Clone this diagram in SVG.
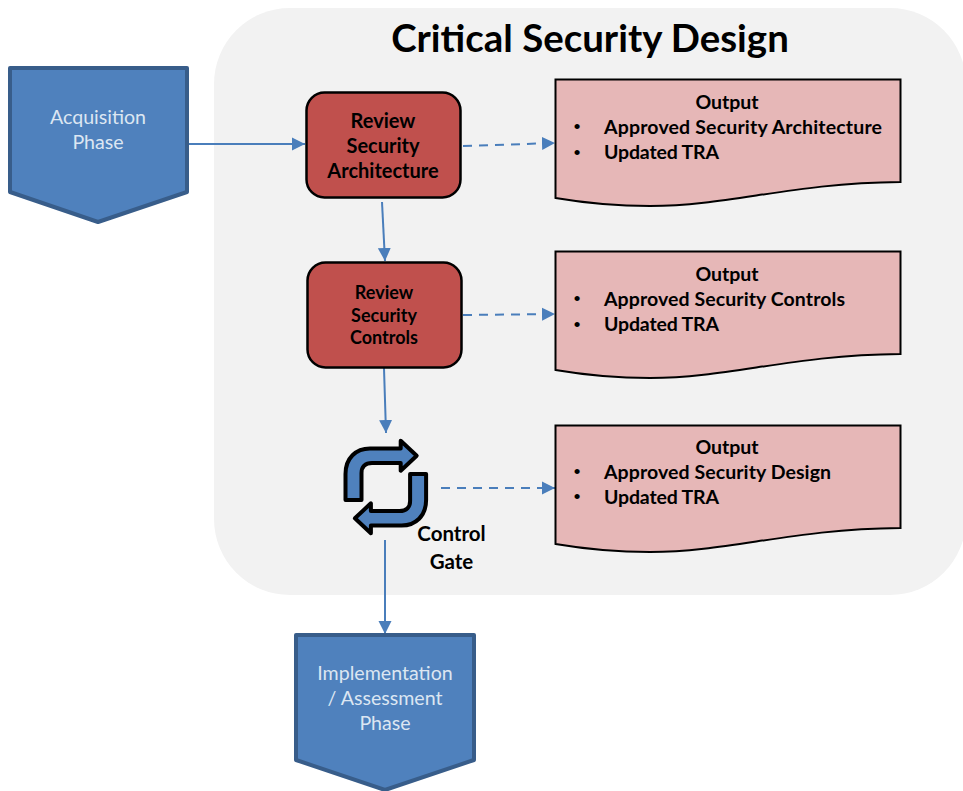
<svg xmlns="http://www.w3.org/2000/svg" width="963" height="791" viewBox="0 0 963 791">
<style>
text{font-family:Lato,"Liberation Sans",sans-serif;text-anchor:middle}
.phase{fill:#4f81bd;stroke:#385d8a;stroke-width:4;stroke-linejoin:round}
.phaset{fill:#dce6f2;font-size:19.6px}
.review{fill:#c0504d;stroke:#000;stroke-width:2.5}
.revt{fill:#000;font-weight:700;font-size:20px}
.revs{fill:#000;font-weight:700;font-size:18px}
.doc{fill:#e6b7b7;stroke:#000;stroke-width:2}
.dt{fill:#000;font-weight:700;font-size:19.5px}
.li{text-anchor:start}
.bul{fill:#000;font-family:"Liberation Sans",sans-serif;font-size:19px}
.con{stroke:#4a7ebb;stroke-width:2;fill:none;marker-end:url(#a)}
.dash{stroke-dasharray:9 7}
.cyc{fill:#4f81bd;stroke:#000;stroke-width:4;stroke-linejoin:round}
</style>
<defs>
<marker id="a" markerUnits="userSpaceOnUse" markerWidth="14" markerHeight="14" refX="13" refY="7" orient="auto"><path d="M0 0.5L13 7L0 13.500z" fill="#4a7ebb"/></marker>
<path id="wave" d="M555.500 79.500H900.500V182C790 183 730 206 650 206C615 206 585 203 555.500 198Z"/>
<path id="cycle" d="M345.500 500V474C345.500 458 356 448.500 370 448.500H400.700V440.700L416.700 455.700L400.700 470.700V463H372C365 463 361.500 467 361.500 473V500Z"/>
</defs>
<rect x="214" y="8" width="752" height="587" rx="76" fill="#f2f2f2"/>
<text x="590" y="52" font-size="38.400" font-weight="700" fill="#000">Critical Security Design</text>
<g id="connectors">
<path class="con" d="M189 144H305"/>
<path class="con" d="M382 202L385 261"/>
<path class="con" d="M384 368L386 433"/>
<path class="con" d="M385 540V634"/>
<path class="con dash" d="M463 146L555 143"/>
<path class="con dash" d="M463 315L555 314"/>
<path class="con dash" d="M441 488H555"/>
</g>
<g id="acquisition"><path class="phase" d="M10 68H187V192L98 222L10 192Z"/><text class="phaset" x="98" y="124">Acquisition</text><text class="phaset" x="98" y="149">Phase</text></g>
<g id="implementation"><path class="phase" d="M296 635H474V760L385 790L296 760Z"/><text class="phaset" x="385" y="680">Implementation</text><text class="phaset" x="385" y="705">/ Assessment</text><text class="phaset" x="385" y="730">Phase</text></g>
<g id="review-architecture"><rect class="review" x="306.500" y="92.500" width="154" height="105" rx="18"/><text class="revt" x="383" y="128">Review</text><text class="revt" x="383" y="153">Security</text><text class="revt" x="383" y="178">Architecture</text></g>
<g id="review-controls"><rect class="review" x="307.500" y="262.500" width="154" height="105" rx="18"/><text class="revs" x="384" y="299">Review</text><text class="revs" x="384" y="322">Security</text><text class="revs" x="384" y="344">Controls</text></g>
<g id="output-1"><use href="#wave" class="doc"/><text class="dt" x="727" y="108.500">Output</text><text class="bul" x="577" y="133">•</text><text class="dt li" x="604" y="133.500" textLength="278">Approved Security Architecture</text><text class="bul" x="577" y="159">•</text><text class="dt li" x="604" y="159" textLength="115">Updated TRA</text></g>
<g id="output-2"><use href="#wave" class="doc" y="172"/><text class="dt" x="727" y="280.500">Output</text><text class="bul" x="577" y="305">•</text><text class="dt li" x="604" y="305.500" textLength="241">Approved Security Controls</text><text class="bul" x="577" y="331">•</text><text class="dt li" x="604" y="331" textLength="115">Updated TRA</text></g>
<g id="output-3"><use href="#wave" class="doc" y="346"/><text class="dt" x="727" y="453.500">Output</text><text class="bul" x="577" y="478">•</text><text class="dt li" x="604" y="478.500" textLength="227">Approved Security Design</text><text class="bul" x="577" y="503">•</text><text class="dt li" x="604" y="503.500" textLength="115">Updated TRA</text></g>
<g id="control-gate">
<use href="#cycle" class="cyc"/>
<use href="#cycle" class="cyc" transform="rotate(180 385.800 487)"/>
<text class="dt" x="451.500" y="541" style="font-size:20.500px">Control</text><text class="dt" x="451.500" y="569" style="font-size:20.500px">Gate</text>
</g>
</svg>
